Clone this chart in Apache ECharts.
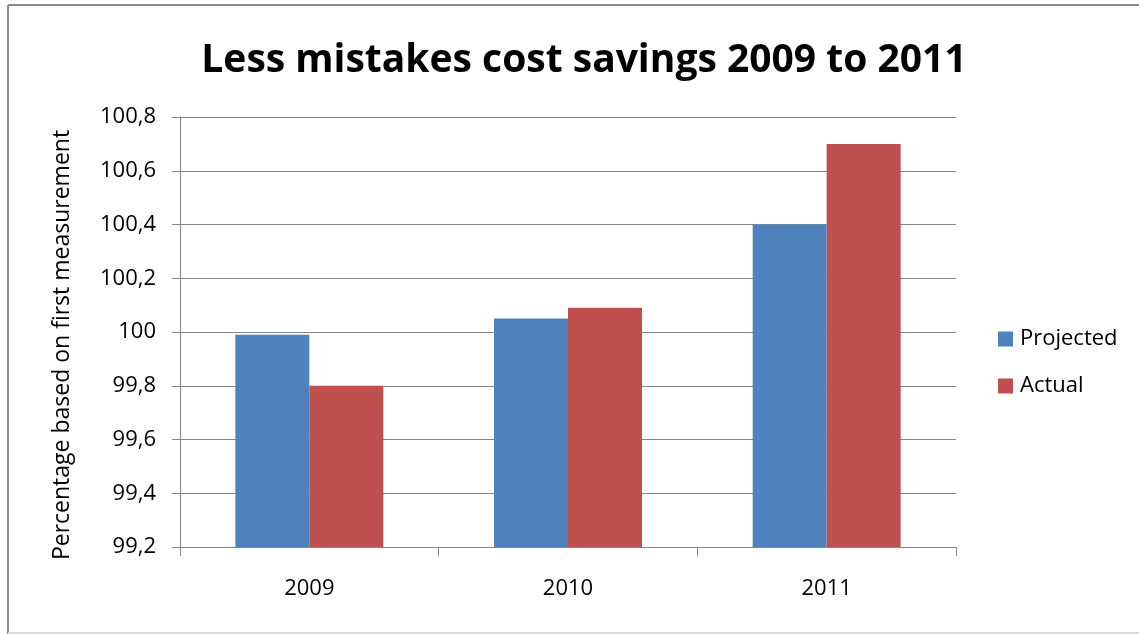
<!DOCTYPE html>
<html>
<head>
<meta charset="utf-8">
<script src="https://cdn.jsdelivr.net/npm/echarts@6/dist/echarts.min.js"></script>
<style>html,body{margin:0;padding:0;background:#fff}#c{width:1139px;height:634px}</style>
</head>
<body>
<div id="c"></div>
<script>
const categories = ['2009', '2010', '2011'];
const projected = [99.99, 100.05, 100.4];
const actual = [99.8, 100.09, 100.7];
const seriesNames = ['Projected', 'Actual'];
const titleText = 'Less mistakes cost savings 2009 to 2011';
const yAxisName = 'Percentage based on first measurement';

const chart = echarts.init(document.getElementById('c'));
const font = 'Open Sans';
chart.setOption({
  animation: false,
  backgroundColor: '#ffffff',
  title: {
    text: titleText,
    left: 579, top: 36, textAlign: 'center',
    textStyle: { fontFamily: font, fontWeight: 'bold', fontSize: 39, color: '#000' }
  },
  legend: {
    orient: 'vertical',
    left: 993, top: 323,
    itemWidth: 15, itemHeight: 15, itemGap: 25,
    icon: 'rect',
    textStyle: { fontFamily: font, fontSize: 22, color: '#000', padding: [0, 0, 0, 2] },
    data: seriesNames
  },
  grid: { left: 180, right: 183, top: 117, bottom: 87 },
  xAxis: {
    type: 'category',
    data: categories,
    axisLine: { lineStyle: { color: '#868686', width: 1 } },
    axisTick: { show: true, length: 9, lineStyle: { color: '#868686' } },
    axisLabel: { fontFamily: font, fontSize: 22, color: '#000', margin: 31 }
  },
  yAxis: {
    type: 'value',
    min: 99.2, max: 100.8, interval: 0.2,
    name: yAxisName,
    nameLocation: 'middle',
    nameGap: 106,
    nameTextStyle: { fontFamily: font, fontSize: 23, color: '#000', padding: [0, 26, 0, 0] },
    axisLine: { show: true, lineStyle: { color: '#868686', width: 1 } },
    axisTick: { show: true, length: 8, lineStyle: { color: '#868686' } },
    axisLabel: {
      fontFamily: font, fontSize: 22, color: '#000', margin: 24,
      formatter: v => String(Math.round(v * 10) / 10).replace('.', ',')
    },
    splitLine: { lineStyle: { color: '#868686', width: 1 } }
  },
  series: [
    { name: seriesNames[0], type: 'bar', data: projected, barGap: '0%', barCategoryGap: '42.8%',
      itemStyle: { color: '#4F81BD' } },
    { name: seriesNames[1], type: 'bar', data: actual, barGap: '0%', barCategoryGap: '42.8%',
      itemStyle: { color: '#C0504D' } }
  ],
  graphic: [
    { type: 'line', shape: { x1: 8, y1: 5, x2: 1139, y2: 5 }, style: { stroke: '#8c8c8c', lineWidth: 2 } },
    { type: 'line', shape: { x1: 8, y1: 5, x2: 8, y2: 634 }, style: { stroke: '#8c8c8c', lineWidth: 2 } },
    { type: 'line', shape: { x1: 8, y1: 633, x2: 1139, y2: 633 }, style: { stroke: '#d9d9d9', lineWidth: 2 } }
  ]
});
</script>
</body>
</html>
